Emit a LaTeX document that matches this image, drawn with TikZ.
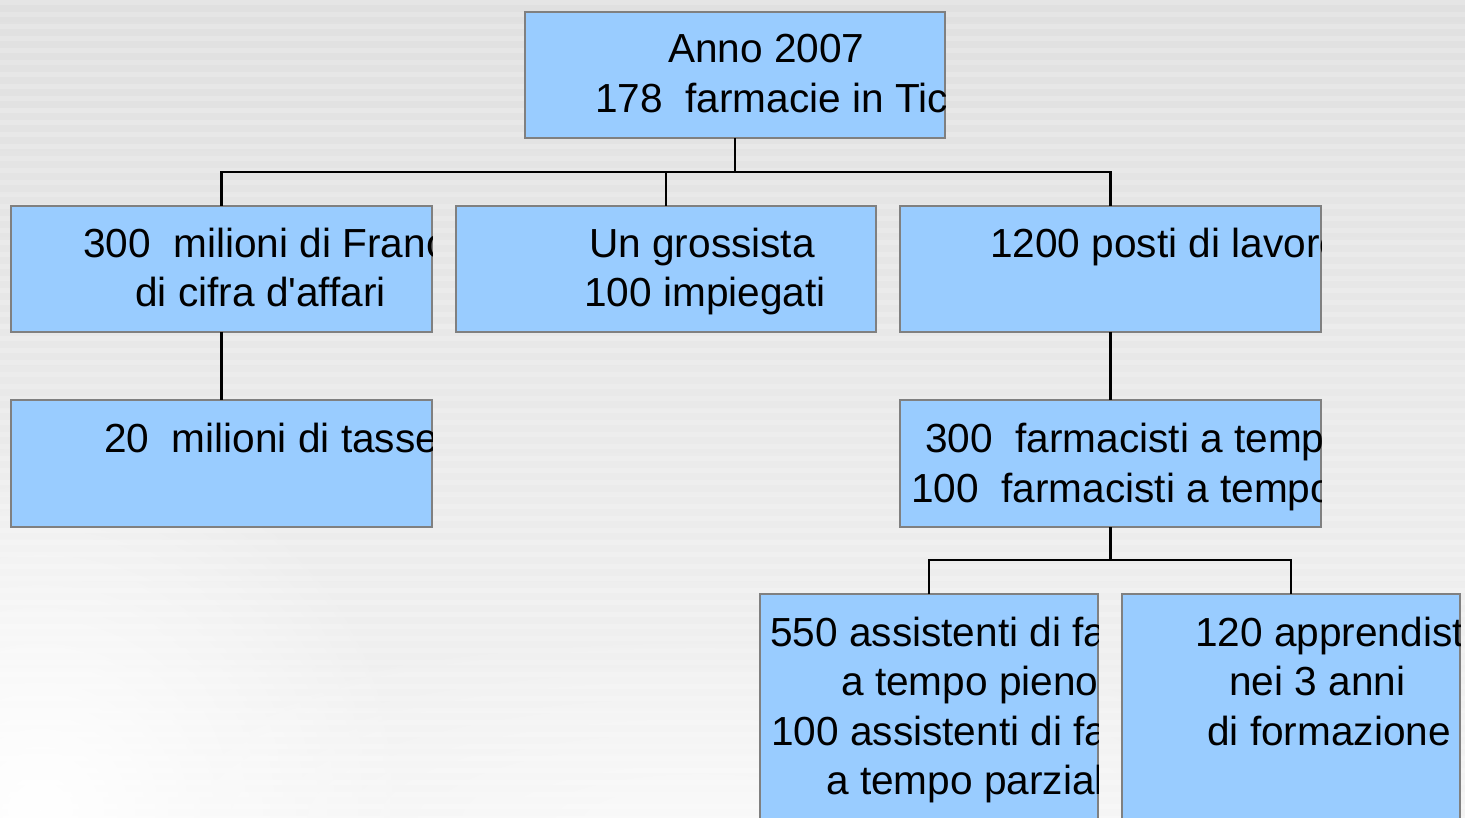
\documentclass[tikz,border=0pt]{standalone}
\usepackage{fontspec}
\setmainfont{Liberation Sans}
\newfontfamily\orgfont{Liberation Sans}
\usetikzlibrary{fadings}
\tikzfading[name=softglow, inner color=transparent!0, outer color=transparent!100]
\definecolor{boxfill}{RGB}{153,204,255}
\definecolor{boxline}{RGB}{128,128,128}
\definecolor{bgtop}{RGB}{224,224,224}
\definecolor{bgbot}{RGB}{243,243,243}
\tikzset{
  orgbox/.style={draw=boxline, fill=boxfill, line width=2.2pt, inner sep=0pt, outer sep=0pt, anchor=north west},
  orgtext/.style={anchor=base west, inner sep=0pt, font=\orgfont\fontsize{40.6}{48}\selectfont},
  link/.style={draw=black, line width=2.2pt},
}
\newcommand{\clipbox}[1]{\clip (#1.north west) rectangle (#1.south east);}
\begin{document}
\begin{tikzpicture}[x=1pt,y=-1pt]
\clip (0,0) rectangle (1465,818);
\useasboundingbox (0,0) rectangle (1465,818);
% background
\shade[top color=bgtop, bottom color=bgbot] (0,0) rectangle (1465,818);
\foreach \yy in {0,12,...,816} \fill[white, opacity=0.18] (0,\yy) rectangle (1465,\yy+5);
\fill[white, path fading=softglow] (40,810) circle (380);
\fill[white, opacity=0.5, path fading=softglow] (700,820) ellipse (700 and 200);

% boxes
\node[orgbox, minimum width=420pt, minimum height=126pt] (top) at (525,12) {};
\node[orgbox, minimum width=421pt, minimum height=126pt] (b1) at (11,206) {};
\node[orgbox, minimum width=420pt, minimum height=126pt] (b2) at (456,206) {};
\node[orgbox, minimum width=421pt, minimum height=126pt] (b3) at (900,206) {};
\node[orgbox, minimum width=421pt, minimum height=127pt] (c1) at (11,400) {};
\node[orgbox, minimum width=421pt, minimum height=127pt] (c3) at (900,400) {};
\node[orgbox, minimum width=338pt, minimum height=250pt] (d1) at (760,594) {};
\node[orgbox, minimum width=338pt, minimum height=250pt] (d2) at (1122,594) {};

% connectors
\coordinate (bus1) at (0,172);
\coordinate (bus2) at (0,560);
\draw[link] (top.south) -- (top.south |- bus1);
\draw[link] (b1.north) -- (b1.north |- bus1) -- (b3.north |- bus1) -- (b3.north);
\draw[link] (b2.north) -- (b2.north |- bus1);
\draw[link] (b1.south) -- (c1.north);
\draw[link] (b3.south) -- (c3.north);
\draw[link] (c3.south) -- (c3.south |- bus2);
\draw[link] (d1.north) -- (d1.north |- bus2) -- (d2.north |- bus2) -- (d2.north);

% texts (clipped to their boxes)
\begin{scope}\clipbox{top}
\node[orgtext] (t1) at (668,63) {Anno 2007};
\node[orgtext] (t2) at (595,113) {178~~farmacie in Ticino};
\end{scope}
\begin{scope}\clipbox{b1}
\node[orgtext] (t3) at (83,258) {300~~milioni di Franchi};
\node[orgtext] (t4) at (135,307) {di cifra d'affari};
\end{scope}
\begin{scope}\clipbox{b2}
\node[orgtext] (t5) at (589,258) {Un grossista};
\node[orgtext] (t6) at (584,307) {100 impiegati};
\end{scope}
\begin{scope}\clipbox{b3}
\node[orgtext] (t7) at (990,258) {1200 posti di lavoro};
\end{scope}
\begin{scope}\clipbox{c1}
\node[orgtext] (t8) at (104,452) {20~~milioni di tasse};
\end{scope}
\begin{scope}\clipbox{c3}
\node[orgtext] (t9) at (925,452) {300~~farmacisti a tempo pieno};
\node[orgtext] (t10) at (911,502) {100~~farmacisti a tempo parziale};
\end{scope}
\begin{scope}\clipbox{d1}
\node[orgtext] (t11) at (770,646) {550 assistenti di farmacia};
\node[orgtext] (t12) at (841,695) {a tempo pieno};
\node[orgtext] (t13) at (771,745) {100 assistenti di farmacia};
\node[orgtext] (t14) at (826,794) {a tempo parziale};
\end{scope}
\begin{scope}\clipbox{d2}
\node[orgtext] (t15) at (1195,646) {120 apprendisti};
\node[orgtext] (t16) at (1229,695) {nei 3 anni};
\node[orgtext] (t17) at (1207,745) {di formazione};
\end{scope}
\end{tikzpicture}
\end{document}
